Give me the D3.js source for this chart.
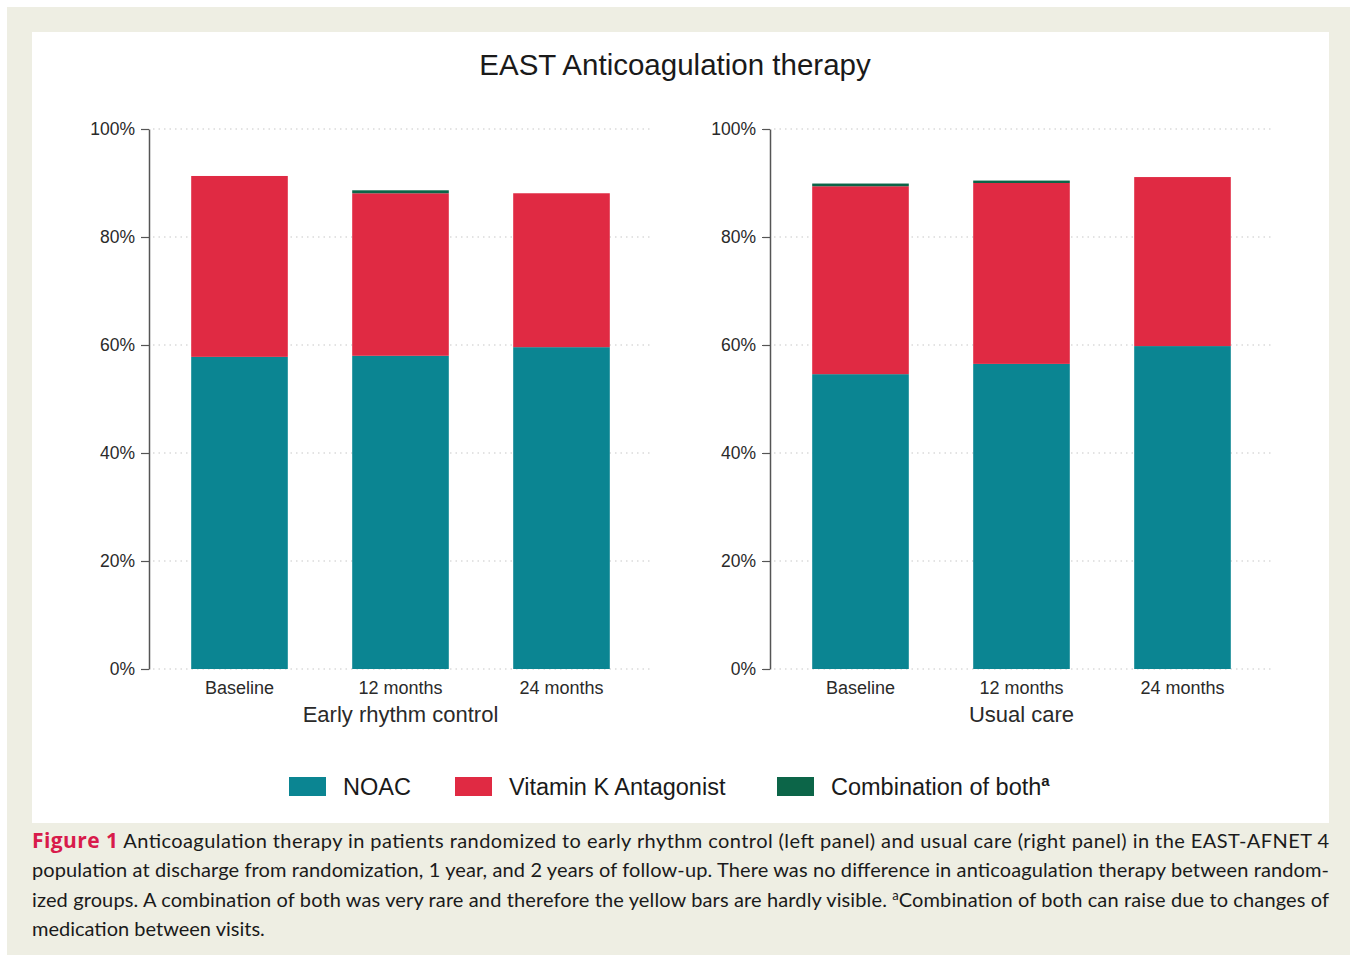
<!DOCTYPE html>
<html>
<head>
<meta charset="utf-8">
<script src="https://cdn.jsdelivr.net/npm/d3@7"></script>
<style>
  body { margin: 0; background: #fff; }
  svg { display: block; }
  .tick text { font-family: "Liberation Sans", Arial, sans-serif; }
</style>
</head>
<body>
<div id="chart"></div>
<script>
// categories and values (percent of patients)
var categories = ["Baseline", "12 months", "24 months"];
var groupNames = ["Early rhythm control", "Usual care"];
var seriesNames = ["NOAC", "Vitamin K Antagonist", "Combination of both"];
var noacERC = [57.8, 58.0, 59.6];
var vkaERC = [33.5, 30.1, 28.5];
var comboERC = [0, 0.55, 0];
var noacUC = [54.6, 56.5, 59.8];
var vkaUC = [34.8, 33.5, 31.3];
var comboUC = [0.5, 0.45, 0];
var yTicks = [0, 20, 40, 60, 80, 100];

var colors = ["#0b8592", "#e02a43", "#0c6548"];
var W = 1357, H = 962;

var svg = d3.select("#chart").append("svg")
  .attr("width", W).attr("height", H);

// page background frame
svg.append("rect").attr("x", 7).attr("y", 7).attr("width", 1343).attr("height", 948)
  .attr("fill", "#eeeee3");
svg.append("rect").attr("x", 32).attr("y", 32).attr("width", 1297).attr("height", 791)
  .attr("fill", "#ffffff");

svg.append("text")
  .attr("x", 675).attr("y", 75)
  .attr("text-anchor", "middle")
  .style("font-family", "'Liberation Sans', Arial, sans-serif")
  .style("font-size", "29.5px")
  .attr("fill", "#1a1a1a")
  .text("EAST Anticoagulation therapy");

var y = d3.scaleLinear().domain([0, 100]).range([669, 129]);

function buildRows(noac, vka, combo) {
  var rows = [];
  for (var i = 0; i < categories.length; i++) {
    rows.push({cat: categories[i], noac: noac[i], vka: vka[i], combo: combo[i]});
  }
  return rows;
}

var panels = [
  {name: groupNames[0], rows: buildRows(noacERC, vkaERC, comboERC), axisX: 149, range: [159, 642], gridEnd: 651},
  {name: groupNames[1], rows: buildRows(noacUC, vkaUC, comboUC), axisX: 770, range: [780, 1263], gridEnd: 1272}
];

var stack = d3.stack().keys(["noac", "vka", "combo"]);

panels.forEach(function (p) {
  var x = d3.scaleBand().domain(categories).range(p.range)
    .paddingInner(0.4).paddingOuter(0.2);

  var g = svg.append("g");

  // dotted grid lines
  g.selectAll(".grid").data(yTicks).enter().append("line")
    .attr("x1", p.axisX + 4).attr("x2", p.gridEnd)
    .attr("y1", function (d) { return y(d); })
    .attr("y2", function (d) { return y(d); })
    .attr("stroke", "#c8c8c8")
    .attr("stroke-width", 1.2)
    .attr("stroke-dasharray", "1.5,4");

  var layers = g.selectAll(".layer").data(stack(p.rows)).enter().append("g")
    .attr("fill", function (d, i) { return colors[i]; });

  layers.selectAll("rect").data(function (d) { return d; }).enter().append("rect")
    .attr("x", function (d) { return x(d.data.cat); })
    .attr("width", x.bandwidth())
    .attr("y", function (d) { return y(d[1]); })
    .attr("height", function (d) { return y(d[0]) - y(d[1]); });

  var yAxis = d3.axisLeft(y).tickValues(yTicks).tickSize(8).tickSizeOuter(0)
    .tickPadding(6)
    .tickFormat(function (d) { return d + "%"; });

  var ax = g.append("g")
    .attr("transform", "translate(" + p.axisX + ",0)")
    .call(yAxis);
  ax.select(".domain").attr("stroke", "#555").attr("stroke-width", 1.5);
  ax.selectAll(".tick line").attr("stroke", "#555").attr("stroke-width", 1.2);
  ax.selectAll(".tick text").style("font-size", "17.5px").attr("fill", "#2a2a2a");

  var xAxis = d3.axisBottom(x).tickSize(0).tickPadding(12);
  var bx = g.append("g")
    .attr("transform", "translate(0,669)")
    .call(xAxis);
  bx.select(".domain").remove();
  bx.selectAll(".tick text").style("font-size", "18px").attr("fill", "#2a2a2a");

  g.append("text")
    .attr("x", (p.range[0] + p.range[1]) / 2).attr("y", 722)
    .attr("text-anchor", "middle")
    .style("font-family", "'Liberation Sans', Arial, sans-serif")
    .style("font-size", "22px")
    .attr("fill", "#2a2a2a")
    .text(p.name);
});

// legend
var legendX = [289, 455, 777];
var leg = svg.selectAll(".leg").data(seriesNames).enter().append("g")
  .attr("transform", function (d, i) { return "translate(" + legendX[i] + ",777)"; });
leg.append("rect").attr("width", 37).attr("height", 19)
  .attr("fill", function (d, i) { return colors[i]; });
var legText = leg.append("text")
  .attr("x", 54).attr("y", 18)
  .style("font-family", "'Liberation Sans', Arial, sans-serif")
  .style("font-size", "23.5px")
  .attr("fill", "#1a1a1a")
  .text(function (d) { return d; });
legText.filter(function (d, i) { return i == 2; }).append("tspan")
  .attr("dy", -9).style("font-size", "15px").style("font-weight", "bold").text("a");

// caption
var capFont = "Lato, 'Open Sans', sans-serif";
var capLines = [
  ["Anticoagulation therapy in patients randomized to early rhythm control (left panel) and usual care (right panel) in the EAST-AFNET 4"],
  ["population at discharge from randomization, 1 year, and 2 years of follow-up. There was no difference in anticoagulation therapy between random-"],
  ["ized groups. A combination of both was very rare and therefore the yellow bars are hardly visible. ", "Combination of both can raise due to changes of"],
  ["medication between visits."]
];
var capY = [848, 877, 907, 936];

var l1 = svg.append("text").attr("x", 32).attr("y", capY[0])
  .style("font-family", capFont).style("font-size", "20px").attr("fill", "#1a1a1a")
  .attr("textLength", 1297).attr("lengthAdjust", "spacing");
l1.append("tspan").style("font-family", "'Open Sans', 'Noto Sans', sans-serif")
  .style("font-weight", "bold").style("font-size", "21px")
  .attr("fill", "#d81b4b").text("Figure 1");
l1.append("tspan").text("  " + capLines[0][0]);

svg.append("text").attr("x", 32).attr("y", capY[1])
  .style("font-family", capFont).style("font-size", "20px").attr("fill", "#1a1a1a")
  .attr("textLength", 1297).attr("lengthAdjust", "spacing")
  .text(capLines[1][0]);

var l3 = svg.append("text").attr("x", 32).attr("y", capY[2])
  .style("font-family", capFont).style("font-size", "20px").attr("fill", "#1a1a1a")
  .attr("textLength", 1297).attr("lengthAdjust", "spacing");
l3.append("tspan").text(capLines[2][0]);
l3.append("tspan").attr("dy", -7).style("font-size", "13px").text("a");
l3.append("tspan").attr("dy", 7).text(capLines[2][1]);

svg.append("text").attr("x", 32).attr("y", capY[3])
  .style("font-family", capFont).style("font-size", "20px").attr("fill", "#1a1a1a")
  .text(capLines[3][0]);
</script>
</body>
</html>
